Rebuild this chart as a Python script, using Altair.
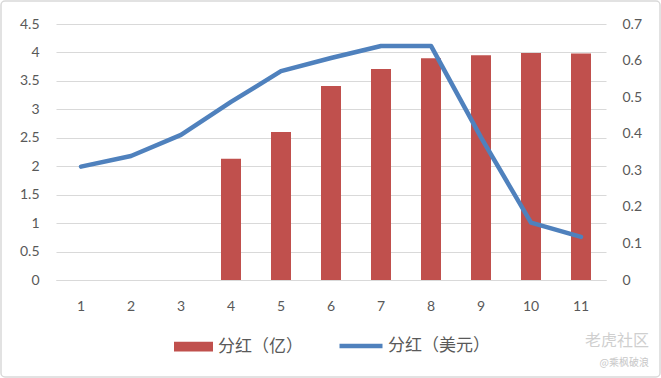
import altair as alt
import pandas as pd

categories = [1, 2, 3, 4, 5, 6, 7, 8, 9, 10, 11]
dividend_yi = [None, None, None, 2.13, 2.60, 3.41, 3.71, 3.90, 3.95, 3.99, 3.98]
dividend_usd = [0.31, 0.339, 0.397, 0.487, 0.571, 0.607, 0.64, 0.64, 0.39, 0.157, 0.118]
series_bar = "分红（亿）"
series_line = "分红（美元）"
left_ticks = [0, 0.5, 1, 1.5, 2, 2.5, 3, 3.5, 4, 4.5]
right_ticks = [0, 0.1, 0.2, 0.3, 0.4, 0.5, 0.6, 0.7]

df = pd.DataFrame({"cat": categories, "yi": dividend_yi, "usd": dividend_usd})
df["s_bar"] = series_bar
df["s_line"] = series_line

NUM_FONT = "Lato"
CJK_FONT = "Noto Sans CJK SC"
LABEL_COLOR = "#595959"
GRID = "#d9d9d9"

x_enc = alt.X(
    "cat:O",
    sort=categories,
    scale=alt.Scale(paddingInner=0.6, paddingOuter=0.3),
    axis=alt.Axis(title=None, labelAngle=0, ticks=False, domainColor=GRID,
                  labelPadding=19, labelFont=NUM_FONT, labelFontSize=14,
                  labelColor=LABEL_COLOR, grid=False),
)

base = alt.Chart(df)

bars = base.mark_bar(color="#c0504d").encode(
    x=x_enc,
    y=alt.Y("yi:Q", scale=alt.Scale(domain=[0, 4.5], nice=False),
            axis=alt.Axis(title=None, values=left_ticks, format="~g", ticks=False,
                          domain=False, gridColor=GRID, labelPadding=17,
                          labelFont=NUM_FONT, labelFontSize=14, labelColor=LABEL_COLOR)),
    color=alt.Color("s_bar:N", scale=alt.Scale(domain=[series_bar], range=["#c0504d"]),
                    legend=alt.Legend(title=None, orient="none", legendX=118, legendY=303,
                                      symbolType="M-1,-0.25H1V0.25H-1Z", symbolSize=1521,
                                      symbolStrokeWidth=0, symbolOpacity=1,
                                      labelFont=CJK_FONT, labelFontSize=17,
                                      labelColor=LABEL_COLOR, labelOffset=5, padding=0)),
)

line = base.mark_line(strokeWidth=4.5, strokeCap="round", strokeJoin="round").encode(
    x=x_enc,
    y=alt.Y("usd:Q", scale=alt.Scale(domain=[0, 0.7], nice=False),
            axis=alt.Axis(title=None, orient="right", values=right_ticks, format="~g",
                          ticks=False, domain=False, grid=False, labelPadding=16,
                          labelFont=NUM_FONT, labelFontSize=14, labelColor=LABEL_COLOR)),
    stroke=alt.Stroke("s_line:N", scale=alt.Scale(domain=[series_line], range=["#4f81bd"]),
                      legend=alt.Legend(title=None, orient="none", legendX=281, legendY=298,
                                        symbolType="stroke", symbolSize=1849,
                                        symbolStrokeWidth=4.5,
                                        labelFont=CJK_FONT, labelFontSize=17,
                                        labelColor=LABEL_COLOR, labelOffset=3, padding=0)),
)

wm1 = alt.Chart(pd.DataFrame({"t": ["老虎社区"]})).mark_text(
    font=CJK_FONT, fontSize=16, color="#cfcfcf", align="right", baseline="middle"
).encode(text="t:N", x=alt.value(593), y=alt.value(317))
wm2 = alt.Chart(pd.DataFrame({"t": ["@乘枫破浪"]})).mark_text(
    font=CJK_FONT, fontSize=10, color="#c8c8c8", align="right", baseline="middle"
).encode(text="t:N", x=alt.value(593), y=alt.value(339))

border = alt.Chart(pd.DataFrame({"a": [0]})).mark_rect(
    fill=None, stroke="#d9d9d9", strokeWidth=1.5, cornerRadius=4
).encode(x=alt.value(-55), x2=alt.value(604), y=alt.value(-23), y2=alt.value(353))

chart = (
    alt.layer(bars, line, wm1, wm2, border)
    .resolve_scale(y="independent", color="independent", stroke="independent")
    .properties(width=550, height=256, autosize="none",
                padding={"left": 56, "top": 24, "right": 55, "bottom": 98},
                background="white")
    .configure_view(stroke=None)
)

chart.save("out.html", embed_options={"renderer": "svg", "actions": False})
